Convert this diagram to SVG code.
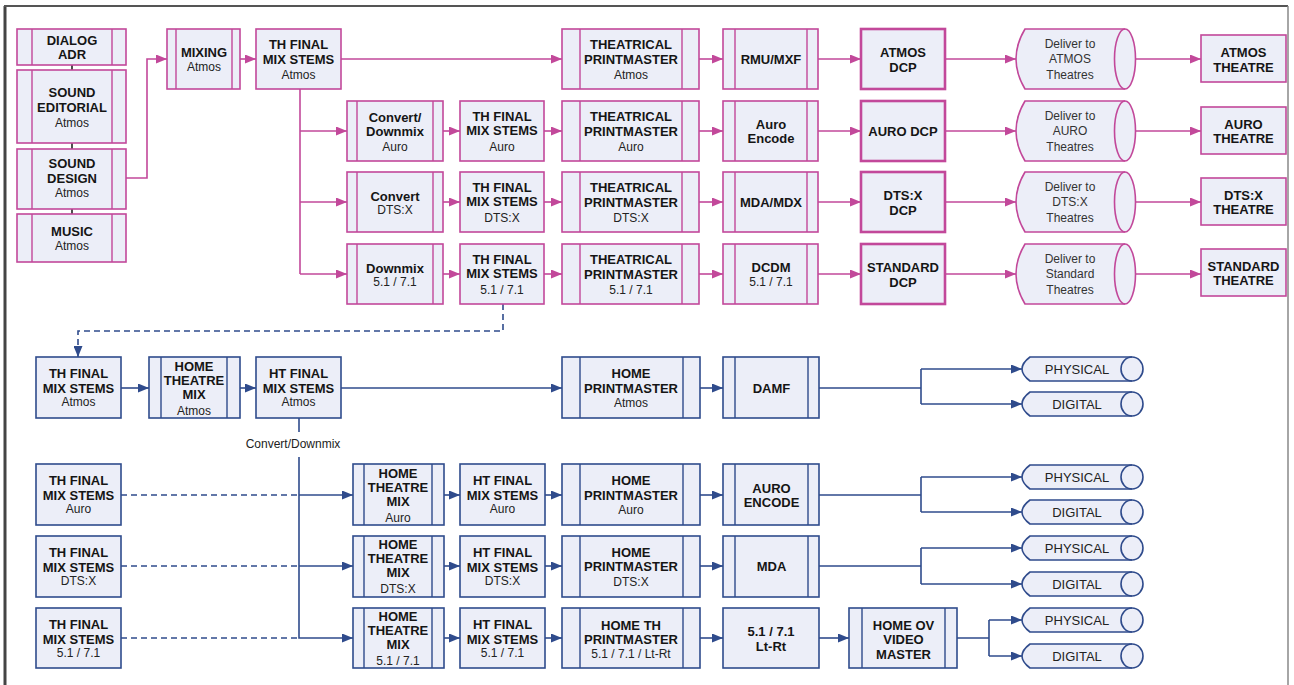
<svg xmlns="http://www.w3.org/2000/svg" width="1294" height="685" viewBox="0 0 1294 685">
<style>
.bg{fill:#ffffff}
.pk{fill:#eceef8;stroke:#c2489a;stroke-width:1.6}
.pkb{fill:#eceef8;stroke:#c2489a;stroke-width:2.6}
.bl{fill:#eceef8;stroke:#2f4b8c;stroke-width:1.6}
.pl{fill:none;stroke:#c2489a;stroke-width:1.6}
.bll{fill:none;stroke:#2f4b8c;stroke-width:1.6}
.in-p{stroke:#c2489a;stroke-width:1.4}
.in-b{stroke:#2f4b8c;stroke-width:1.4}
.cp{fill:none;stroke:#c2489a;stroke-width:1.6;marker-end:url(#ap)}
.cb{fill:none;stroke:#2f4b8c;stroke-width:1.6;marker-end:url(#ab)}
.db{fill:none;stroke:#2f4b8c;stroke-width:1.6;stroke-dasharray:6 4}
.tk{fill:none;stroke:#222;stroke-width:1.6}
text{font-family:"Liberation Sans",Arial,sans-serif;text-anchor:middle;fill:#151515}
.t{font-size:13px;font-weight:700}
.s{font-size:12px;font-weight:400;fill:#222}
.c{font-size:12px;font-weight:400;fill:#333}
.d{font-size:13px;font-weight:400;fill:#222}
</style>
<defs>
<marker id="ap" markerUnits="userSpaceOnUse" markerWidth="11" markerHeight="9" refX="11" refY="4.5" orient="auto"><path d="M0,0 L11,4.5 L0,9 z" fill="#c2489a"/></marker>
<marker id="ab" markerUnits="userSpaceOnUse" markerWidth="11" markerHeight="9" refX="11" refY="4.5" orient="auto"><path d="M0,0 L11,4.5 L0,9 z" fill="#2f4b8c"/></marker>
</defs>
<rect class="bg" x="0" y="0" width="1294" height="685"/>
<g id="frame">
<line x1="5" y1="6" x2="5" y2="685" stroke="#444" stroke-width="3"/>
<line x1="4" y1="6" x2="1288" y2="6" stroke="#555" stroke-width="2"/>
<line x1="1288" y1="6" x2="1288" y2="685" stroke="#888" stroke-width="1.5"/>
</g>

<g id="connectors">
<path class="tk" d="M72,65 V70 M72,143 V149 M72,209 V214"/>
<path class="cp" d="M126,178 H147 V59 H167"/>
<path class="cp" d="M240,59 H256"/>
<path class="cp" d="M341,59 H562"/>
<path class="pl" d="M300,89 V274"/>
<path class="cp" d="M300,131 H347"/>
<path class="cp" d="M300,202 H347"/>
<path class="cp" d="M300,274 H347"/>
<path class="cp" d="M699,59 H723"/><path class="cp" d="M818,59 H861"/><path class="cp" d="M945,59 H1016"/><path class="cp" d="M1125,59 H1201"/>
<path class="cp" d="M443,131 H460"/><path class="cp" d="M544,131 H562"/><path class="cp" d="M699,131 H723"/><path class="cp" d="M818,131 H861"/><path class="cp" d="M945,131 H1016"/><path class="cp" d="M1125,131 H1201"/>
<path class="cp" d="M443,202 H460"/><path class="cp" d="M544,202 H562"/><path class="cp" d="M699,202 H723"/><path class="cp" d="M818,202 H861"/><path class="cp" d="M945,202 H1016"/><path class="cp" d="M1125,202 H1201"/>
<path class="cp" d="M443,274 H460"/><path class="cp" d="M544,274 H562"/><path class="cp" d="M699,274 H723"/><path class="cp" d="M818,274 H861"/><path class="cp" d="M945,274 H1016"/><path class="cp" d="M1125,274 H1201"/>

<path class="db" d="M503,304 V331 H78 V347"/>
<path class="cb" d="M78,346 V357"/>
<path class="cb" d="M121,388 H149"/><path class="cb" d="M240,388 H256"/><path class="cb" d="M341,388 H562"/><path class="cb" d="M700,388 H723"/>
<path class="bll" d="M819,388 H921 M921,369 V404"/><path class="cb" d="M921,369 H1022"/><path class="cb" d="M921,404 H1022"/>
<path class="bll" d="M299,418 V432"/>
<path class="cb" d="M299,457 V638 H353"/>
<path class="db" d="M121,495 H299"/><path class="cb" d="M299,495 H353"/>
<path class="cb" d="M444,495 H460"/><path class="cb" d="M545,495 H562"/><path class="cb" d="M700,495 H723"/>
<path class="bll" d="M819,495 H921 M921,477 V512"/><path class="cb" d="M921,477 H1022"/><path class="cb" d="M921,512 H1022"/>
<path class="db" d="M121,566 H299"/><path class="cb" d="M299,566 H353"/>
<path class="cb" d="M444,566 H460"/><path class="cb" d="M545,566 H562"/><path class="cb" d="M700,566 H723"/>
<path class="bll" d="M819,566 H921 M921,548 V584"/><path class="cb" d="M921,548 H1022"/><path class="cb" d="M921,584 H1022"/>
<path class="db" d="M121,638 H299"/>
<path class="cb" d="M444,638 H460"/><path class="cb" d="M545,638 H562"/><path class="cb" d="M700,638 H723"/><path class="cb" d="M819,638 H849"/>
<path class="bll" d="M957,638 H989 M989,620 V656"/><path class="cb" d="M989,620 H1022"/><path class="cb" d="M989,656 H1022"/>
<text class="s" x="293" y="448">Convert/Downmix</text>
</g>

<!-- left column -->
<g id="dialog-adr"><rect class="pk" x="17" y="29" width="109" height="36"/><path class="in-p" d="M32,29 V65 M112,29 V65"/><text class="t" x="72" y="44.5">DIALOG</text><text class="t" x="72" y="58.5">ADR</text></g>
<g id="sound-editorial"><rect class="pk" x="17" y="70" width="109" height="73"/><path class="in-p" d="M32,70 V143 M112,70 V143"/><text class="t" x="72" y="96.5">SOUND</text><text class="t" x="72" y="111.5">EDITORIAL</text><text class="s" x="72" y="127">Atmos</text></g>
<g id="sound-design"><rect class="pk" x="17" y="149" width="109" height="60"/><path class="in-p" d="M32,149 V209 M112,149 V209"/><text class="t" x="72" y="167.5">SOUND</text><text class="t" x="72" y="182.5">DESIGN</text><text class="s" x="72" y="197">Atmos</text></g>
<g id="music"><rect class="pk" x="17" y="214" width="109" height="48"/><path class="in-p" d="M32,214 V262 M112,214 V262"/><text class="t" x="72" y="235.5">MUSIC</text><text class="s" x="72" y="250">Atmos</text></g>
<g id="mixing"><rect class="pk" x="167" y="29" width="73" height="60"/><path class="in-p" d="M176,29 V89 M232,29 V89"/><text class="t" x="204" y="56.5">MIXING</text><text class="s" x="204" y="71">Atmos</text></g>
<g id="th-final-atmos"><rect class="pk" x="256" y="29" width="85" height="60"/><text class="t" x="298.5" y="48.5">TH FINAL</text><text class="t" x="298.5" y="63.5">MIX STEMS</text><text class="s" x="298.5" y="79">Atmos</text></g>

<!-- row 1 -->
<g id="tpm-atmos"><rect class="pk" x="562" y="29" width="137" height="60"/><path class="in-p" d="M580,29 V89 M682,29 V89"/><text class="t" x="631" y="48.5">THEATRICAL</text><text class="t" x="631" y="63.5">PRINTMASTER</text><text class="s" x="631" y="78.5">Atmos</text></g>
<g id="rmu-mxf"><rect class="pk" x="723" y="29" width="95" height="60"/><path class="in-p" d="M735,29 V89 M807,29 V89"/><text class="t" x="771" y="63.5">RMU/MXF</text></g>
<g id="atmos-dcp"><rect class="pkb" x="861" y="29" width="84" height="60"/><text class="t" x="903" y="56.5">ATMOS</text><text class="t" x="903" y="71.5">DCP</text></g>
<g id="deliver-atmos"><path class="pk" d="M1025,29 L1125,29 A10.5,30 0 0 1 1125,89 L1025,89 Q1007,59 1025,29 Z"/><path class="pl" d="M1125,29 A10.5,30 0 0 0 1125,89"/><text class="c" x="1070" y="48">Deliver to</text><text class="c" x="1070" y="63">ATMOS</text><text class="c" x="1070" y="79">Theatres</text></g>
<g id="atmos-theatre"><rect class="pk" x="1201" y="35" width="85" height="47"/><text class="t" x="1243.5" y="56.5">ATMOS</text><text class="t" x="1243.5" y="71.5">THEATRE</text></g>

<!-- row 2 -->
<g id="convert-auro"><rect class="pk" x="347" y="101" width="96" height="60"/><path class="in-p" d="M357,101 V161 M433,101 V161"/><text class="t" x="395" y="121.5">Convert/</text><text class="t" x="395" y="135.5">Downmix</text><text class="s" x="395" y="151">Auro</text></g>
<g id="th-final-auro"><rect class="pk" x="460" y="101" width="84" height="60"/><text class="t" x="502" y="120.5">TH FINAL</text><text class="t" x="502" y="134.5">MIX STEMS</text><text class="s" x="502" y="151">Auro</text></g>
<g id="tpm-auro"><rect class="pk" x="562" y="101" width="137" height="60"/><path class="in-p" d="M580,101 V161 M682,101 V161"/><text class="t" x="631" y="120.5">THEATRICAL</text><text class="t" x="631" y="135.5">PRINTMASTER</text><text class="s" x="631" y="151">Auro</text></g>
<g id="auro-encode"><rect class="pk" x="723" y="101" width="95" height="60"/><path class="in-p" d="M735,101 V161 M807,101 V161"/><text class="t" x="771" y="128.5">Auro</text><text class="t" x="771" y="142.5">Encode</text></g>
<g id="auro-dcp"><rect class="pkb" x="861" y="101" width="84" height="60"/><text class="t" x="903" y="135.5">AURO DCP</text></g>
<g id="deliver-auro"><path class="pk" d="M1025,101 L1125,101 A10.5,30 0 0 1 1125,161 L1025,161 Q1007,131 1025,101 Z"/><path class="pl" d="M1125,101 A10.5,30 0 0 0 1125,161"/><text class="c" x="1070" y="120">Deliver to</text><text class="c" x="1070" y="135">AURO</text><text class="c" x="1070" y="151">Theatres</text></g>
<g id="auro-theatre"><rect class="pk" x="1201" y="107" width="85" height="47"/><text class="t" x="1243.5" y="128.5">AURO</text><text class="t" x="1243.5" y="142.5">THEATRE</text></g>

<!-- row 3 -->
<g id="convert-dtsx"><rect class="pk" x="347" y="172" width="96" height="60"/><path class="in-p" d="M357,172 V232 M433,172 V232"/><text class="t" x="395" y="200.5">Convert</text><text class="s" x="395" y="214">DTS:X</text></g>
<g id="th-final-dtsx"><rect class="pk" x="460" y="172" width="84" height="60"/><text class="t" x="502" y="191.5">TH FINAL</text><text class="t" x="502" y="205.5">MIX STEMS</text><text class="s" x="502" y="222">DTS:X</text></g>
<g id="tpm-dtsx"><rect class="pk" x="562" y="172" width="137" height="60"/><path class="in-p" d="M580,172 V232 M682,172 V232"/><text class="t" x="631" y="191.5">THEATRICAL</text><text class="t" x="631" y="206.5">PRINTMASTER</text><text class="s" x="631" y="222">DTS:X</text></g>
<g id="mda-mdx"><rect class="pk" x="723" y="172" width="95" height="60"/><path class="in-p" d="M735,172 V232 M807,172 V232"/><text class="t" x="771" y="206.5">MDA/MDX</text></g>
<g id="dtsx-dcp"><rect class="pkb" x="861" y="172" width="84" height="60"/><text class="t" x="903" y="199.5">DTS:X</text><text class="t" x="903" y="214.5">DCP</text></g>
<g id="deliver-dtsx"><path class="pk" d="M1025,172 L1125,172 A10.5,30 0 0 1 1125,232 L1025,232 Q1007,202 1025,172 Z"/><path class="pl" d="M1125,172 A10.5,30 0 0 0 1125,232"/><text class="c" x="1070" y="191">Deliver to</text><text class="c" x="1070" y="206">DTS:X</text><text class="c" x="1070" y="222">Theatres</text></g>
<g id="dtsx-theatre"><rect class="pk" x="1201" y="178" width="85" height="47"/><text class="t" x="1243.5" y="199.5">DTS:X</text><text class="t" x="1243.5" y="213.5">THEATRE</text></g>

<!-- row 4 -->
<g id="downmix"><rect class="pk" x="347" y="244" width="96" height="60"/><path class="in-p" d="M357,244 V304 M433,244 V304"/><text class="t" x="395" y="272.5">Downmix</text><text class="s" x="395" y="286">5.1 / 7.1</text></g>
<g id="th-final-51"><rect class="pk" x="460" y="244" width="84" height="60"/><text class="t" x="502" y="263.5">TH FINAL</text><text class="t" x="502" y="277.5">MIX STEMS</text><text class="s" x="502" y="294">5.1 / 7.1</text></g>
<g id="tpm-51"><rect class="pk" x="562" y="244" width="137" height="60"/><path class="in-p" d="M580,244 V304 M682,244 V304"/><text class="t" x="631" y="263.5">THEATRICAL</text><text class="t" x="631" y="278.5">PRINTMASTER</text><text class="s" x="631" y="294">5.1 / 7.1</text></g>
<g id="dcdm"><rect class="pk" x="723" y="244" width="95" height="60"/><path class="in-p" d="M735,244 V304 M807,244 V304"/><text class="t" x="771" y="271.5">DCDM</text><text class="s" x="771" y="286">5.1 / 7.1</text></g>
<g id="standard-dcp"><rect class="pkb" x="861" y="244" width="84" height="60"/><text class="t" x="903" y="271.5">STANDARD</text><text class="t" x="903" y="286.5">DCP</text></g>
<g id="deliver-standard"><path class="pk" d="M1025,244 L1125,244 A10.5,30 0 0 1 1125,304 L1025,304 Q1007,274 1025,244 Z"/><path class="pl" d="M1125,244 A10.5,30 0 0 0 1125,304"/><text class="c" x="1070" y="263">Deliver to</text><text class="c" x="1070" y="278">Standard</text><text class="c" x="1070" y="294">Theatres</text></g>
<g id="standard-theatre"><rect class="pk" x="1201" y="249" width="85" height="47"/><text class="t" x="1243.5" y="271">STANDARD</text><text class="t" x="1243.5" y="285">THEATRE</text></g>

<!-- home B0 -->
<g id="h-th-final-atmos"><rect class="bl" x="36" y="357" width="85" height="61"/><text class="t" x="78.5" y="377.5">TH FINAL</text><text class="t" x="78.5" y="392.5">MIX STEMS</text><text class="s" x="78.5" y="406">Atmos</text></g>
<g id="htm-atmos"><rect class="bl" x="149" y="357" width="91" height="61"/><path class="in-b" d="M161,357 V418 M227,357 V418"/><text class="t" x="194" y="370.5">HOME</text><text class="t" x="194" y="384.5">THEATRE</text><text class="t" x="194" y="398.5">MIX</text><text class="s" x="194" y="415">Atmos</text></g>
<g id="ht-final-atmos"><rect class="bl" x="256" y="357" width="85" height="61"/><text class="t" x="298.5" y="377.5">HT FINAL</text><text class="t" x="298.5" y="392.5">MIX STEMS</text><text class="s" x="298.5" y="406">Atmos</text></g>
<g id="hpm-atmos"><rect class="bl" x="562" y="357" width="138" height="61"/><path class="in-b" d="M580,357 V418 M683,357 V418"/><text class="t" x="631" y="377.5">HOME</text><text class="t" x="631" y="392.5">PRINTMASTER</text><text class="s" x="631" y="407">Atmos</text></g>
<g id="damf"><rect class="bl" x="723" y="357" width="96" height="61"/><path class="in-b" d="M735,357 V418 M808,357 V418"/><text class="t" x="771.5" y="392.5">DAMF</text></g>

<!-- home B1 -->
<g id="h-th-final-auro"><rect class="bl" x="36" y="464" width="85" height="61"/><text class="t" x="78.5" y="484.5">TH FINAL</text><text class="t" x="78.5" y="499.5">MIX STEMS</text><text class="s" x="78.5" y="513">Auro</text></g>
<g id="htm-auro"><rect class="bl" x="353" y="464" width="91" height="61"/><path class="in-b" d="M364,464 V525 M432,464 V525"/><text class="t" x="398" y="477.5">HOME</text><text class="t" x="398" y="491.5">THEATRE</text><text class="t" x="398" y="505.5">MIX</text><text class="s" x="398" y="522">Auro</text></g>
<g id="ht-final-auro"><rect class="bl" x="460" y="464" width="85" height="61"/><text class="t" x="502.5" y="484.5">HT FINAL</text><text class="t" x="502.5" y="499.5">MIX STEMS</text><text class="s" x="502.5" y="513">Auro</text></g>
<g id="hpm-auro"><rect class="bl" x="562" y="464" width="138" height="61"/><path class="in-b" d="M580,464 V525 M683,464 V525"/><text class="t" x="631" y="484.5">HOME</text><text class="t" x="631" y="499.5">PRINTMASTER</text><text class="s" x="631" y="514">Auro</text></g>
<g id="auro-encode-h"><rect class="bl" x="723" y="464" width="96" height="61"/><path class="in-b" d="M735,464 V525 M808,464 V525"/><text class="t" x="771.5" y="492.5">AURO</text><text class="t" x="771.5" y="506.5">ENCODE</text></g>

<!-- home B2 -->
<g id="h-th-final-dtsx"><rect class="bl" x="36" y="536" width="85" height="61"/><text class="t" x="78.5" y="556.5">TH FINAL</text><text class="t" x="78.5" y="571.5">MIX STEMS</text><text class="s" x="78.5" y="585">DTS:X</text></g>
<g id="htm-dtsx"><rect class="bl" x="353" y="536" width="91" height="61"/><path class="in-b" d="M364,536 V597 M432,536 V597"/><text class="t" x="398" y="548.5">HOME</text><text class="t" x="398" y="562.5">THEATRE</text><text class="t" x="398" y="576.5">MIX</text><text class="s" x="398" y="593">DTS:X</text></g>
<g id="ht-final-dtsx"><rect class="bl" x="460" y="536" width="85" height="61"/><text class="t" x="502.5" y="556.5">HT FINAL</text><text class="t" x="502.5" y="571.5">MIX STEMS</text><text class="s" x="502.5" y="585">DTS:X</text></g>
<g id="hpm-dtsx"><rect class="bl" x="562" y="536" width="138" height="61"/><path class="in-b" d="M580,536 V597 M683,536 V597"/><text class="t" x="631" y="556.5">HOME</text><text class="t" x="631" y="570.5">PRINTMASTER</text><text class="s" x="631" y="586">DTS:X</text></g>
<g id="mda"><rect class="bl" x="723" y="536" width="96" height="61"/><path class="in-b" d="M735,536 V597 M808,536 V597"/><text class="t" x="771.5" y="570.5">MDA</text></g>

<!-- home B3 -->
<g id="h-th-final-51"><rect class="bl" x="36" y="608" width="85" height="60"/><text class="t" x="78.5" y="628.5">TH FINAL</text><text class="t" x="78.5" y="643.5">MIX STEMS</text><text class="s" x="78.5" y="657">5.1 / 7.1</text></g>
<g id="htm-51"><rect class="bl" x="353" y="608" width="91" height="60"/><path class="in-b" d="M364,608 V668 M432,608 V668"/><text class="t" x="398" y="620.5">HOME</text><text class="t" x="398" y="634.5">THEATRE</text><text class="t" x="398" y="648.5">MIX</text><text class="s" x="398" y="665">5.1 / 7.1</text></g>
<g id="ht-final-51"><rect class="bl" x="460" y="608" width="85" height="60"/><text class="t" x="502.5" y="628.5">HT FINAL</text><text class="t" x="502.5" y="643.5">MIX STEMS</text><text class="s" x="502.5" y="657">5.1 / 7.1</text></g>
<g id="hpm-51"><rect class="bl" x="562" y="608" width="138" height="60"/><path class="in-b" d="M580,608 V668 M683,608 V668"/><text class="t" x="631" y="629.5">HOME TH</text><text class="t" x="631" y="643.5">PRINTMASTER</text><text class="s" x="631" y="658">5.1 / 7.1 / Lt-Rt</text></g>
<g id="ltrt"><rect class="bl" x="723" y="608" width="96" height="60"/><text class="t" x="771" y="635.5">5.1 / 7.1</text><text class="t" x="771" y="650.5">Lt-Rt</text></g>
<g id="home-ov"><rect class="bl" x="849" y="608" width="108" height="60"/><path class="in-b" d="M862,608 V668 M945,608 V668"/><text class="t" x="903.5" y="629.5">HOME OV</text><text class="t" x="903.5" y="643.5">VIDEO</text><text class="t" x="903.5" y="658.5">MASTER</text></g>

<!-- outputs -->
<g id="phys-0"><path class="bl" d="M1030,357 L1132,357 A11,12 0 0 1 1132,381 L1030,381 Q1014,369 1030,357 Z"/><path class="bll" d="M1132,357 A11,12 0 0 0 1132,381"/><text class="d" x="1077" y="373.5">PHYSICAL</text></g>
<g id="dig-0"><path class="bl" d="M1030,392 L1132,392 A11,12 0 0 1 1132,416 L1030,416 Q1014,404 1030,392 Z"/><path class="bll" d="M1132,392 A11,12 0 0 0 1132,416"/><text class="d" x="1077" y="408.5">DIGITAL</text></g>
<g id="phys-1"><path class="bl" d="M1030,465 L1132,465 A11,12 0 0 1 1132,489 L1030,489 Q1014,477 1030,465 Z"/><path class="bll" d="M1132,465 A11,12 0 0 0 1132,489"/><text class="d" x="1077" y="481.5">PHYSICAL</text></g>
<g id="dig-1"><path class="bl" d="M1030,500 L1132,500 A11,12 0 0 1 1132,524 L1030,524 Q1014,512 1030,500 Z"/><path class="bll" d="M1132,500 A11,12 0 0 0 1132,524"/><text class="d" x="1077" y="516.5">DIGITAL</text></g>
<g id="phys-2"><path class="bl" d="M1030,536 L1132,536 A11,12 0 0 1 1132,560 L1030,560 Q1014,548 1030,536 Z"/><path class="bll" d="M1132,536 A11,12 0 0 0 1132,560"/><text class="d" x="1077" y="552.5">PHYSICAL</text></g>
<g id="dig-2"><path class="bl" d="M1030,572 L1132,572 A11,12 0 0 1 1132,596 L1030,596 Q1014,584 1030,572 Z"/><path class="bll" d="M1132,572 A11,12 0 0 0 1132,596"/><text class="d" x="1077" y="588.5">DIGITAL</text></g>
<g id="phys-3"><path class="bl" d="M1030,608 L1132,608 A11,12 0 0 1 1132,632 L1030,632 Q1014,620 1030,608 Z"/><path class="bll" d="M1132,608 A11,12 0 0 0 1132,632"/><text class="d" x="1077" y="624.5">PHYSICAL</text></g>
<g id="dig-3"><path class="bl" d="M1030,644 L1132,644 A11,12 0 0 1 1132,668 L1030,668 Q1014,656 1030,644 Z"/><path class="bll" d="M1132,644 A11,12 0 0 0 1132,668"/><text class="d" x="1077" y="660.5">DIGITAL</text></g>
</svg>
